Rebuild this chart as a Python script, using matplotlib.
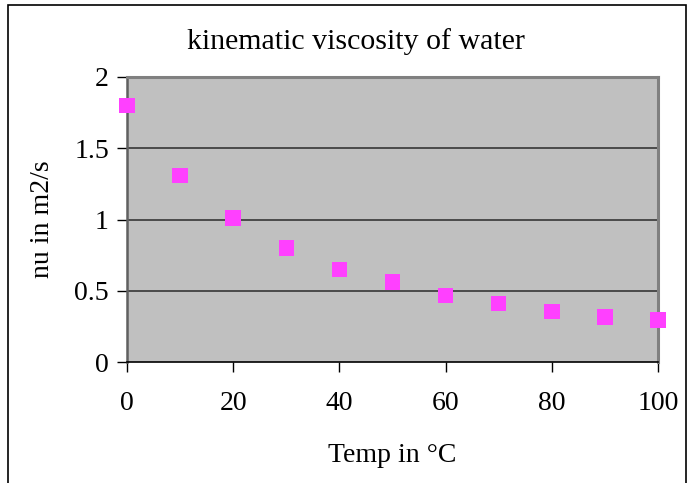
import matplotlib
matplotlib.use("Agg")
import matplotlib.pyplot as plt
from matplotlib.patches import Rectangle

# ---------------- Data ----------------
temp_c = [0, 10, 20, 30, 40, 50, 60, 70, 80, 90, 100]
nu = [1.80, 1.31, 1.01, 0.80, 0.65, 0.56, 0.465, 0.41, 0.355, 0.315, 0.295]

x_ticks = [0, 20, 40, 60, 80, 100]
y_ticks = [0, 0.5, 1, 1.5, 2]
y_tick_labels = ["0", "0.5", "1", "1.5", "2"]

# ---------------- Style ----------------
plt.rcParams.update({
    "font.family": "serif",
    "font.serif": ["Liberation Serif", "DejaVu Serif"],
    "font.size": 20,
})

W, H = 689, 483
fig = plt.figure(figsize=(W / 100, H / 100), dpi=100)
ax = fig.add_axes([127 / W, 1 - 362 / H, (658 - 127) / W, (362 - 77) / H])
ax.set_facecolor("#c0c0c0")

ax.scatter(temp_c, nu, marker="s", s=15.5 ** 2 * 0.52, color="#ff40ff",
           edgecolors="none", zorder=3, clip_on=False)

ax.set_xlim(0, 100)
ax.set_ylim(0, 2)
ax.set_xticks(x_ticks)
ax.set_yticks(y_ticks)
ax.set_yticklabels(y_tick_labels)

for yv in y_ticks[1:-1]:
    ax.axhline(yv, color="#2a2a2a", lw=1.1, zorder=1)

for side in ("top", "right"):
    ax.spines[side].set_color("#808080")
    ax.spines[side].set_linewidth(2.2)
ax.spines["left"].set_color("#606060")
ax.spines["left"].set_linewidth(1.8)
ax.spines["bottom"].set_color("black")
ax.spines["bottom"].set_linewidth(1.2)

ax.tick_params(axis="both", direction="out", length=7, width=1, color="black",
               labelsize=20)
ax.tick_params(axis="x", pad=14)
ax.tick_params(axis="y", pad=6)

fig.text(356 / W, 1 - 42 / H, "kinematic viscosity of water", fontsize=21.5,
         ha="center", va="center")
ax.set_xlabel("Temp in °C", fontsize=20, labelpad=19)
ax.set_ylabel("nu in m2/s", fontsize=20, labelpad=14)

# chart frame around the whole figure
fig.patches.append(Rectangle((8 / W, -0.05), (686 - 8) / W, 1.05 - 5 / H,
                             transform=fig.transFigure, fill=False,
                             edgecolor="black", lw=1.2))

fig.savefig("out.png", dpi=100)
